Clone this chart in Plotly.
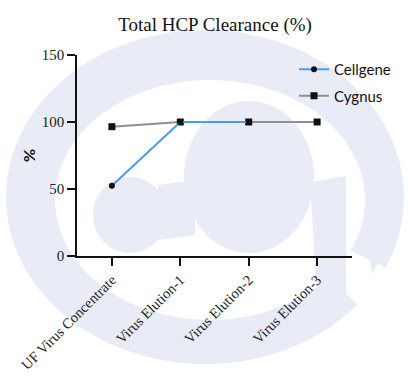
import numpy as np
import plotly.graph_objects as go

categories = ["UF Virus Concentrate", "Virus Elution-1", "Virus Elution-2", "Virus Elution-3"]
cellgene = [52.5, 100, 100, None]
cygnus = [96.5, 100, 100, 100]
y_ticks = [0, 50, 100, 150]

# plot-area pixel geometry (for watermark conversion)
L, R, T, B = 77, 352, 55, 256
W, H = 408, 384

def px(x, y):
    return (x - L) / (R - L), (B - y) / (B - T)

def path_from(points):
    s = ""
    for i, (x, y) in enumerate(points):
        a, b = px(x, y)
        s += ("M" if i == 0 else "L") + f"{a:.4f},{b:.4f} "
    return s + "Z"

def ellipse_pts(cx, cy, rx, ry, a0=0, a1=360, n=120):
    t = np.radians(np.linspace(a0, a1, n))
    return list(zip(cx + rx * np.cos(t), cy + ry * np.sin(t)))

wm = "#E9ECF7"
shapes = []
# ring (C shape) with opening at lower-right
outer = ellipse_pts(205, 197, 199, 167, 40, 385)
inner = ellipse_pts(210, 200, 155, 120, 385, 40)
shapes.append(dict(type="path", xref="paper", yref="paper", layer="below",
                   path=path_from(outer + inner), fillcolor=wm, line_width=0))
# big blob
shapes.append(dict(type="path", xref="paper", yref="paper", layer="below",
                   path=path_from(ellipse_pts(249, 177, 65, 76)), fillcolor=wm, line_width=0))
# small blob
shapes.append(dict(type="path", xref="paper", yref="paper", layer="below",
                   path=path_from(ellipse_pts(130, 215, 37, 38)), fillcolor=wm, line_width=0))
# connector
shapes.append(dict(type="path", xref="paper", yref="paper", layer="below",
                   path=path_from([(158, 185), (195, 180), (195, 235), (158, 240)]), fillcolor=wm, line_width=0))
# right bar
shapes.append(dict(type="path", xref="paper", yref="paper", layer="below",
                   path=path_from([(310, 182), (346, 176), (346, 310), (318, 318)]), fillcolor=wm, line_width=0))
# tapered right tip of ring
shapes.append(dict(type="path", xref="paper", yref="paper", layer="below",
                   path=path_from([(365, 230), (400, 225), (372, 274)]), fillcolor=wm, line_width=0))

fig = go.Figure()
fig.add_trace(go.Scatter(x=categories, y=cygnus, name="Cygnus", mode="lines+markers",
                         line=dict(color="#8E8E93", width=2),
                         marker=dict(symbol="square", size=7, color="#111111"),
                         legendgroup="b", legendrank=2))
fig.add_trace(go.Scatter(x=categories, y=cellgene, name="Cellgene", mode="lines+markers",
                         line=dict(color="#4C9BEF", width=2),
                         marker=dict(symbol="circle", size=6, color="#111111"),
                         legendgroup="a", legendrank=1))

fig.update_layout(
    width=W, height=H,
    margin=dict(l=L, r=W - R, t=T, b=H - B, pad=0),
    paper_bgcolor="white", plot_bgcolor="rgba(0,0,0,0)",
    shapes=shapes,
    title=dict(text="Total HCP Clearance (%)", x=0.527, xanchor="center", y=1 - 24 / H, yanchor="middle",
               font=dict(family="Liberation Serif", size=19, color="#111111")),
    showlegend=True,
    legend=dict(x=(294 - L) / (R - L), y=(B - 53) / (B - T), xanchor="left", yanchor="top",
                bgcolor="rgba(0,0,0,0)", font=dict(family="Lato", size=15, color="#111111"),
                traceorder="grouped", tracegroupgap=4, itemwidth=30),
    xaxis=dict(range=[-0.51, 3.51], showline=True, linecolor="#111111", linewidth=1.5,
               ticks="outside", ticklen=8, tickwidth=1.5, tickcolor="#111111",
               tickangle=-45, showgrid=False, zeroline=False,
               tickfont=dict(family="Liberation Serif", size=14.5, color="#222222")),
    yaxis=dict(range=[0, 150], tickvals=y_ticks, showline=True, linecolor="#111111", linewidth=1.5,
               ticks="outside", ticklen=8, tickwidth=1.5, tickcolor="#111111",
               showgrid=False, zeroline=False,
               title=dict(text="<b>%</b>", standoff=2, font=dict(family="Lato", size=16, color="#111111")),
               tickfont=dict(family="Liberation Serif", size=15, color="#222222")),
)

fig.write_html("out.html")
